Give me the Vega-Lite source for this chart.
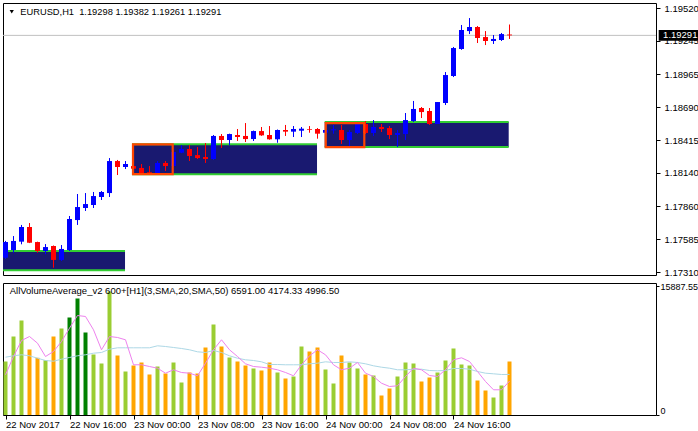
{
"$schema": "https://vega.github.io/schema/vega-lite/v6.json",
"background": "white",
"padding": {"left": 1, "top": 2, "right": 0, "bottom": 0},
"spacing": 3,
"config": {
 "view": {"stroke": "#000000", "strokeWidth": 1},
 "font": "Liberation Sans",
 "scale": {"continuousPadding": 0},
 "axis": {"labelFont": "Liberation Sans", "labelFontSize": 9.5, "labelColor": "#000000", "tickColor": "#000000", "domain": false, "grid": false, "labelOverlap": false}
},
"datasets": {
 "bars": [
  {"i":0,"o":1.17430,"h":1.17570,"l":1.17419,"c":1.17561,"v":6591,"k":"up","f":4953,"s":7121},
  {"i":1,"o":1.17494,"h":1.17611,"l":1.17472,"c":1.17570,"v":9671,"k":"up","f":7207,"s":7293},
  {"i":2,"o":1.17564,"h":1.17704,"l":1.17542,"c":1.17687,"v":11642,"k":"up","f":9178,"s":7417},
  {"i":3,"o":1.17687,"h":1.17720,"l":1.17552,"c":1.17555,"v":8070,"k":"dn","f":9671,"s":7293},
  {"i":4,"o":1.17561,"h":1.17564,"l":1.17472,"c":1.17486,"v":7047,"k":"dn","f":8846,"s":6998},
  {"i":5,"o":1.17486,"h":1.17544,"l":1.17458,"c":1.17519,"v":6751,"k":"up","f":7207,"s":6714},
  {"i":6,"o":1.17528,"h":1.17532,"l":1.17346,"c":1.17411,"v":9671,"k":"dn","f":7823,"s":6628},
  {"i":7,"o":1.17411,"h":1.17536,"l":1.17402,"c":1.17503,"v":10657,"k":"up","f":9055,"s":6875},
  {"i":8,"o":1.17494,"h":1.17779,"l":1.17486,"c":1.17754,"v":12012,"k":"upx","f":10694,"s":7084},
  {"i":9,"o":1.17745,"h":1.17963,"l":1.17704,"c":1.17854,"v":14353,"k":"upx","f":12258,"s":7293},
  {"i":10,"o":1.17846,"h":1.17971,"l":1.17821,"c":1.17879,"v":10164,"k":"upx","f":12135,"s":7417},
  {"i":11,"o":1.17871,"h":1.17980,"l":1.17846,"c":1.17946,"v":7454,"k":"up","f":10497,"s":7614},
  {"i":12,"o":1.17938,"h":1.17988,"l":1.17913,"c":1.17980,"v":6345,"k":"up","f":8033,"s":7700},
  {"i":13,"o":1.17971,"h":1.18264,"l":1.17938,"c":1.18239,"v":15215,"k":"up","f":9671,"s":8107},
  {"i":14,"o":1.18239,"h":1.18248,"l":1.18122,"c":1.18189,"v":7330,"k":"dn","f":9548,"s":8279},
  {"i":15,"o":1.18189,"h":1.18239,"l":1.18172,"c":1.18214,"v":5359,"k":"up","f":9265,"s":8279},
  {"i":16,"o":1.18197,"h":1.18206,"l":1.18172,"c":1.18175,"v":6098,"k":"dn","f":6185,"s":8279},
  {"i":17,"o":1.18181,"h":1.18214,"l":1.18130,"c":1.18133,"v":6468,"k":"dn","f":6185,"s":8279},
  {"i":18,"o":1.18145,"h":1.18197,"l":1.18130,"c":1.18133,"v":4990,"k":"dn","f":5975,"s":8279},
  {"i":19,"o":1.18133,"h":1.18239,"l":1.18128,"c":1.18223,"v":5975,"k":"up","f":5766,"s":8525},
  {"i":20,"o":1.18223,"h":1.18239,"l":1.18156,"c":1.18197,"v":5113,"k":"dn","f":5150,"s":8439},
  {"i":21,"o":1.18197,"h":1.18331,"l":1.18189,"c":1.18315,"v":6468,"k":"up","f":5569,"s":8316},
  {"i":22,"o":1.18309,"h":1.18373,"l":1.18305,"c":1.18340,"v":4004,"k":"up","f":5236,"s":8193},
  {"i":23,"o":1.18340,"h":1.18373,"l":1.18239,"c":1.18281,"v":5236,"k":"dn","f":5150,"s":8033},
  {"i":24,"o":1.18289,"h":1.18356,"l":1.18256,"c":1.18264,"v":5113,"k":"dn","f":4829,"s":7786},
  {"i":25,"o":1.18273,"h":1.18390,"l":1.18223,"c":1.18256,"v":8316,"k":"dn","f":6382,"s":7700},
  {"i":26,"o":1.18256,"h":1.18457,"l":1.18248,"c":1.18449,"v":11150,"k":"up","f":8033,"s":7946},
  {"i":27,"o":1.18449,"h":1.18465,"l":1.18348,"c":1.18415,"v":8439,"k":"dn","f":9265,"s":7700},
  {"i":28,"o":1.18415,"h":1.18468,"l":1.18373,"c":1.18465,"v":7084,"k":"up","f":8033,"s":7293},
  {"i":29,"o":1.18457,"h":1.18507,"l":1.18407,"c":1.18440,"v":6591,"k":"dn","f":7207,"s":6998},
  {"i":30,"o":1.18449,"h":1.18557,"l":1.18398,"c":1.18423,"v":6098,"k":"dn","f":6308,"s":6801},
  {"i":31,"o":1.18423,"h":1.18494,"l":1.18407,"c":1.18490,"v":5729,"k":"up","f":5975,"s":6714},
  {"i":32,"o":1.18490,"h":1.18524,"l":1.18450,"c":1.18454,"v":5482,"k":"dn","f":5889,"s":6554},
  {"i":33,"o":1.18457,"h":1.18532,"l":1.18418,"c":1.18421,"v":6468,"k":"dn","f":5766,"s":6222},
  {"i":34,"o":1.18421,"h":1.18503,"l":1.18392,"c":1.18499,"v":5236,"k":"up","f":5569,"s":6222},
  {"i":35,"o":1.18499,"h":1.18541,"l":1.18449,"c":1.18485,"v":4497,"k":"dn","f":5236,"s":6185},
  {"i":36,"o":1.18485,"h":1.18532,"l":1.18440,"c":1.18507,"v":4743,"k":"up","f":4829,"s":6185},
  {"i":37,"o":1.18493,"h":1.18524,"l":1.18440,"c":1.18510,"v":8439,"k":"up","f":6185,"s":6185},
  {"i":38,"o":1.18505,"h":1.18532,"l":1.18476,"c":1.18499,"v":7823,"k":"dn","f":7293,"s":6308},
  {"i":39,"o":1.18507,"h":1.18515,"l":1.18426,"c":1.18468,"v":8316,"k":"dn","f":8033,"s":6382},
  {"i":40,"o":1.18476,"h":1.18515,"l":1.18465,"c":1.18499,"v":5606,"k":"up","f":7417,"s":6554},
  {"i":41,"o":1.18496,"h":1.18541,"l":1.18468,"c":1.18505,"v":3881,"k":"up","f":6185,"s":6468},
  {"i":42,"o":1.18499,"h":1.18541,"l":1.18382,"c":1.18415,"v":7330,"k":"dn","f":5569,"s":6468},
  {"i":43,"o":1.18415,"h":1.18499,"l":1.18356,"c":1.18482,"v":6468,"k":"up","f":5766,"s":6554},
  {"i":44,"o":1.18474,"h":1.18566,"l":1.18465,"c":1.18549,"v":5729,"k":"up","f":6468,"s":6468},
  {"i":45,"o":1.18549,"h":1.18574,"l":1.18465,"c":1.18474,"v":4990,"k":"dn","f":5150,"s":6308},
  {"i":46,"o":1.18474,"h":1.18582,"l":1.18449,"c":1.18524,"v":4866,"k":"up","f":4743,"s":6061},
  {"i":47,"o":1.18524,"h":1.18549,"l":1.18482,"c":1.18507,"v":2402,"k":"dn","f":3918,"s":5889},
  {"i":48,"o":1.18515,"h":1.18532,"l":1.18423,"c":1.18457,"v":3265,"k":"dn","f":3511,"s":5766},
  {"i":49,"o":1.18457,"h":1.18499,"l":1.18356,"c":1.18474,"v":4743,"k":"up","f":3597,"s":5569},
  {"i":50,"o":1.18465,"h":1.18641,"l":1.18415,"c":1.18582,"v":6468,"k":"up","f":4743,"s":5569},
  {"i":51,"o":1.18574,"h":1.18742,"l":1.18566,"c":1.18675,"v":6345,"k":"up","f":5766,"s":5643},
  {"i":52,"o":1.18683,"h":1.18691,"l":1.18599,"c":1.18649,"v":4127,"k":"dn","f":5569,"s":5643},
  {"i":53,"o":1.18658,"h":1.18683,"l":1.18541,"c":1.18549,"v":4620,"k":"dn","f":4866,"s":5482},
  {"i":54,"o":1.18549,"h":1.18733,"l":1.18549,"c":1.18733,"v":5236,"k":"up","f":4743,"s":5445},
  {"i":55,"o":1.18725,"h":1.18984,"l":1.18708,"c":1.18959,"v":6714,"k":"up","f":5569,"s":5482},
  {"i":56,"o":1.18951,"h":1.19194,"l":1.18942,"c":1.19185,"v":8193,"k":"up","f":6801,"s":5729},
  {"i":57,"o":1.19177,"h":1.19378,"l":1.19170,"c":1.19336,"v":6222,"k":"up","f":7047,"s":5729},
  {"i":58,"o":1.19327,"h":1.19436,"l":1.19302,"c":1.19361,"v":6098,"k":"up","f":6591,"s":5643},
  {"i":59,"o":1.19361,"h":1.19369,"l":1.19227,"c":1.19269,"v":4250,"k":"dn","f":5359,"s":5359},
  {"i":60,"o":1.19277,"h":1.19327,"l":1.19210,"c":1.19244,"v":3018,"k":"dn","f":4127,"s":5150},
  {"i":61,"o":1.19244,"h":1.19294,"l":1.19219,"c":1.19261,"v":2156,"k":"up","f":3105,"s":5076},
  {"i":62,"o":1.19252,"h":1.19311,"l":1.19244,"c":1.19302,"v":3634,"k":"up","f":3105,"s":4990},
  {"i":63,"o":1.19298,"h":1.19382,"l":1.19261,"c":1.19291,"v":6591,"k":"dn","f":4174.33,"s":4996.5}
 ],
 "zones": [
  {"x1":-0.3125,"x2":14.94,"y1":1.17486,"y2":1.17324},
  {"x1":15.81,"x2":38.94,"y1":1.18379,"y2":1.18128},
  {"x1":39.9,"x2":62.9,"y1":1.18566,"y2":1.18356}
 ],
 "boxes": [
  {"x1":15.94,"x2":20.9,"y1":1.18379,"y2":1.18130},
  {"x1":40.03,"x2":44.85,"y1":1.18557,"y2":1.18356}
 ]
},
"vconcat": [
 {
  "width": 653, "height": 272,
  "layer": [
   {"data":{"name":"zones"},"mark":{"type":"rect","color":"#191970"},
    "encoding":{
     "x":{"field":"x1","type":"quantitative","scale":{"domain":[-0.3125,81.3125],"nice":false,"zero":false,"padding":0},"axis":null,"title":null},
     "x2":{"field":"x2"},
     "y":{"field":"y1","type":"quantitative","scale":{"domain":[1.17285,1.19562],"nice":false,"zero":false,"padding":0},"title":null,
          "axis":{"orient":"right","values":[1.1952,1.19245,1.18965,1.1869,1.18415,1.1814,1.1786,1.17585,1.1731],"format":".5f","tickSize":4,"labelPadding":4,"labelOverlap":false}},
     "y2":{"field":"y2"}}},
   {"data":{"name":"zones"},"mark":{"type":"rule","color":"#32CD32","strokeWidth":2},
    "encoding":{"x":{"field":"x1","type":"quantitative","axis":null,"title":null},"x2":{"field":"x2"},
     "y":{"field":"y1","type":"quantitative","title":null,"axis":{"orient":"right","values":[1.1952,1.19245,1.18965,1.1869,1.18415,1.1814,1.1786,1.17585,1.1731],"format":".5f","tickSize":4,"labelPadding":4,"labelOverlap":false}}}},
   {"data":{"name":"zones"},"mark":{"type":"rule","color":"#32CD32","strokeWidth":2},
    "encoding":{"x":{"field":"x1","type":"quantitative","axis":null,"title":null},"x2":{"field":"x2"},
     "y":{"field":"y2","type":"quantitative","title":null,"axis":{"orient":"right","values":[1.1952,1.19245,1.18965,1.1869,1.18415,1.1814,1.1786,1.17585,1.1731],"format":".5f","tickSize":4,"labelPadding":4,"labelOverlap":false}}}},
   {"data":{"values":[{}]},"mark":{"type":"rule","color":"#C0C0C0","strokeWidth":1},
    "encoding":{"y":{"datum":1.19291,"type":"quantitative","axis":{"orient":"right","values":[1.1952,1.19245,1.18965,1.1869,1.18415,1.1814,1.1786,1.17585,1.1731],"format":".5f","tickSize":4,"labelPadding":4,"labelOverlap":false}}}},
   {"data":{"name":"bars"},"mark":{"type":"rule","strokeWidth":1},
    "encoding":{"x":{"field":"i","type":"quantitative","axis":null,"title":null},
     "y":{"field":"l","type":"quantitative","title":null,"axis":{"orient":"right","values":[1.1952,1.19245,1.18965,1.1869,1.18415,1.1814,1.1786,1.17585,1.1731],"format":".5f","tickSize":4,"labelPadding":4,"labelOverlap":false}},"y2":{"field":"h"},
     "color":{"condition":{"test":"datum.c >= datum.o","value":"#0000FF"},"value":"#FF0000"}}},
   {"data":{"name":"bars"},"mark":{"type":"bar","size":5},
    "encoding":{"x":{"field":"i","type":"quantitative","axis":null,"title":null},
     "y":{"field":"o","type":"quantitative","title":null,"axis":{"orient":"right","values":[1.1952,1.19245,1.18965,1.1869,1.18415,1.1814,1.1786,1.17585,1.1731],"format":".5f","tickSize":4,"labelPadding":4,"labelOverlap":false}},"y2":{"field":"c"},
     "color":{"condition":{"test":"datum.c >= datum.o","value":"#0000FF"},"value":"#FF0000"}}},
   {"data":{"name":"boxes"},"mark":{"type":"rect","filled":false,"stroke":"#FF4500","strokeWidth":2.2},
    "encoding":{"x":{"field":"x1","type":"quantitative","axis":null,"title":null},"x2":{"field":"x2"},
     "y":{"field":"y1","type":"quantitative","title":null,"axis":{"orient":"right","values":[1.1952,1.19245,1.18965,1.1869,1.18415,1.1814,1.1786,1.17585,1.1731],"format":".5f","tickSize":4,"labelPadding":4,"labelOverlap":false}},"y2":{"field":"y2"}}},
   {"data":{"values":[{}]},"mark":{"type":"point","shape":"triangle-down","filled":true,"color":"#000000","size":18,"opacity":1},
    "encoding":{"x":{"datum":0.78,"type":"quantitative","axis":null},
     "y":{"datum":1.19489,"type":"quantitative","axis":{"orient":"right","values":[1.1952,1.19245,1.18965,1.1869,1.18415,1.1814,1.1786,1.17585,1.1731],"format":".5f","tickSize":4,"labelPadding":4,"labelOverlap":false}}}},
   {"data":{"values":[{}]},"mark":{"type":"text","text":"EURUSD,H1\u00a0\u00a01.19298 1.19382 1.19261 1.19291","align":"left","baseline":"middle","fontSize":9.3,"color":"#000000"},
    "encoding":{"x":{"datum":1.85,"type":"quantitative","axis":null},
     "y":{"datum":1.19489,"type":"quantitative","axis":{"orient":"right","values":[1.1952,1.19245,1.18965,1.1869,1.18415,1.1814,1.1786,1.17585,1.1731],"format":".5f","tickSize":4,"labelPadding":4,"labelOverlap":false}}}},
   {"data":{"values":[{}]},"mark":{"type":"rect","color":"#000000","clip":false},
    "encoding":{"x":{"datum":81.65,"type":"quantitative","axis":null},"x2":{"datum":86.65},
     "y":{"datum":1.19336,"type":"quantitative","axis":{"orient":"right","values":[1.1952,1.19245,1.18965,1.1869,1.18415,1.1814,1.1786,1.17585,1.1731],"format":".5f","tickSize":4,"labelPadding":4,"labelOverlap":false}},"y2":{"datum":1.19246}}},
   {"data":{"values":[{}]},"mark":{"type":"text","text":"1.19291","align":"left","baseline":"middle","fontSize":9.5,"color":"#FFFFFF","clip":false},
    "encoding":{"x":{"datum":82.2,"type":"quantitative","axis":null},
     "y":{"datum":1.19291,"type":"quantitative","axis":{"orient":"right","values":[1.1952,1.19245,1.18965,1.1869,1.18415,1.1814,1.1786,1.17585,1.1731],"format":".5f","tickSize":4,"labelPadding":4,"labelOverlap":false}}}}
  ]
 },
 {
  "width": 653, "height": 132,
  "layer": [
   {"data":{"name":"bars"},"mark":{"type":"bar","size":4},
    "encoding":{
     "x":{"field":"i","type":"quantitative","scale":{"domain":[-0.3125,81.3125],"nice":false,"zero":false,"padding":0},"title":null,
          "axis":{"orient":"bottom","values":[0,8,16,24,32,40,48,56],"labelExpr":"['22 Nov 2017','22 Nov 16:00','23 Nov 00:00','23 Nov 08:00','23 Nov 16:00','24 Nov 00:00','24 Nov 08:00','24 Nov 16:00'][datum.value/8]","labelAlign":"left","labelBaseline":"top","labelPadding":0,"tickSize":4,"labelFlush":false,"labelOverlap":false}},
     "y":{"field":"v","type":"quantitative","scale":{"domain":[0,16262],"nice":false,"zero":true,"padding":0},"title":null,
          "axis":{"orient":"right","values":[0,15887.55],"labelExpr":"datum.value == 0 ? '0' : '15887.55'","labelFlush":true,"tickSize":3,"labelPadding":1,"labelFontSize":9,"labelOverlap":false}},
     "color":{"field":"k","type":"nominal","scale":{"domain":["up","dn","upx"],"range":["#9ACD32","#FFA500","#008000"]},"legend":null}}},
   {"data":{"name":"bars"},"mark":{"type":"line","color":"#ADD8E6","strokeWidth":1},
    "encoding":{"x":{"field":"i","type":"quantitative","title":null},"y":{"field":"s","type":"quantitative","title":null}}},
   {"data":{"name":"bars"},"mark":{"type":"line","color":"#EE82EE","strokeWidth":1},
    "encoding":{"x":{"field":"i","type":"quantitative","title":null},"y":{"field":"f","type":"quantitative","title":null}}},
   {"data":{"values":[{}]},"mark":{"type":"text","text":"AllVolumeAverage_v2 600+[H1](3,SMA,20,SMA,50) 6591.00 4174.33 4996.50","align":"left","baseline":"middle","fontSize":9.5,"color":"#000000"},
    "encoding":{"x":{"datum":0.525,"type":"quantitative"},"y":{"datum":15240,"type":"quantitative"}}}
  ]
 }
]
}
